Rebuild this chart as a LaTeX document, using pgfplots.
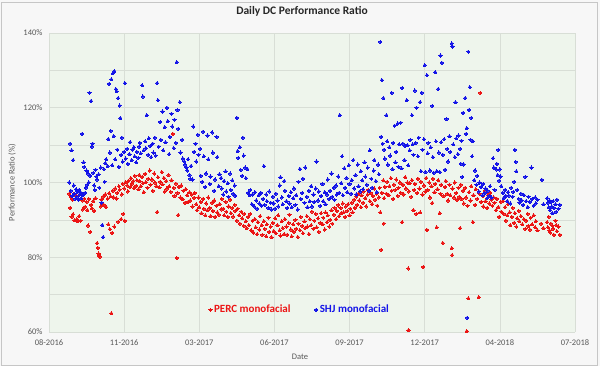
\documentclass[border=0pt]{standalone}
\usepackage{fontspec}
\setmainfont{Carlito}
\usepackage{pgfplots}
\pgfplotsset{compat=1.18}
\definecolor{percred}{RGB}{236,20,20}
\definecolor{shjblue}{RGB}{20,20,232}
\definecolor{plotbg}{RGB}{238,245,236}
\definecolor{outerbg}{RGB}{247,247,247}
\definecolor{gridc}{RGB}{216,222,214}
\definecolor{labc}{RGB}{89,89,89}
\begin{document}
\begin{tikzpicture}
\fill[outerbg] (0,0) rectangle (600pt,366pt);
\draw[gray!45,line width=0.6pt] (1pt,1pt) rectangle (597pt,364pt);
\useasboundingbox (0,0) rectangle (600pt,366pt);
\begin{axis}[
  at={(49pt,34pt)}, anchor=south west,
  scale only axis, width=526pt, height=299pt,
  xmin=0, xmax=700, ymin=60, ymax=140,
  axis background/.style={fill=plotbg},
  axis line style={draw=none},
  major tick length=0pt, minor tick length=0pt,
  xtick={0,100,...,700},
  xticklabels={08-2016,11-2016,03-2017,06-2017,09-2017,12-2017,04-2018,07-2018},
  ytick={60,80,100,120,140},
  yticklabels={60\%,80\%,100\%,120\%,140\%},
  minor ytick={70,90,110,130},
  grid=both,
  major grid style={gridc,line width=0.6pt},
  minor grid style={gridc,line width=0.6pt},
  ticklabel style={font=\fontsize{8.5}{10}\selectfont, text=labc},
  xticklabel style={yshift=-4pt},
  yticklabel style={xshift=-3pt},
  title={\textbf{Daily DC Performance Ratio}},
  title style={at={(axis description cs:0.481,1)}, anchor=center, yshift=16pt, font=\fontsize{11.5}{13}\selectfont, text=black!85},
  xlabel={Date},
  xlabel style={at={(axis description cs:0.477,-0.084)}, anchor=center, font=\fontsize{8.5}{10}\selectfont, text=labc},
  ylabel={Performance Ratio (\%)},
  ylabel style={at={(axis description cs:-0.070,0.5)}, anchor=center, font=\fontsize{8.5}{10}\selectfont, text=labc},
  /pgf/number format/assume math mode=true,
  legend style={draw=none, fill=none, at={(0.477,0.074)}, anchor=center, font=\fontsize{11}{13}\selectfont\bfseries},
  legend columns=2,
  legend cell align=left,
  /tikz/every even column/.append style={column sep=22pt},
]
\addplot[only marks, mark=*, color=percred, mark size=1.6pt, mark options={draw=percred, fill=percred, line width=0pt}] coordinates {
(27,97.0)(28,93.2)(29,96.2)(30,90.8)(31,95.4)(32,91.5)(33,96.8)(34,89.9)(36,96.5)(37,90.2)(38,89.6)(40,91.0)(41,96.9)(42,89.8)(44,95.2)(45,92.8)(47,95.6)(48,93.5)(50,94.8)(51,92.6)(52,88.5)(53,95.6)(55,86.8)(56,94.0)(57,93.1)(59,95.0)(60,92.4)(62,95.8)(64,83.8)(65,82.5)(66,81.0)(67,80.4)(68,80.2)(69,93.6)(70,95.5)(72,96.2)(73,94.0)(75,96.8)(76,93.4)(78,95.7)(79,88.8)(80,97.1)(81,87.5)(82,96.3)(83,65.0)(84,86.5)(85,97.8)(86,96.0)(87,88.2)(88,98.4)(90,95.7)(91,97.2)(92,89.5)(93,99.0)(94,98.1)(96,90.2)(97,96.8)(98,99.6)(99,91.6)(100,98.4)(101,89.7)(102,100.1)(104,99.2)(105,97.6)(106,100.5)(108,98.8)(109,101.2)(110,99.6)(112,100.4)(113,98.5)(114,101.8)(116,99.1)(117,100.6)(119,98.2)(120,102.0)(121,100.3)(122,99.0)(124,101.5)(125,99.8)(126,97.4)(128,102.3)(129,100.1)(131,98.6)(132,101.0)(134,103.2)(135,99.4)(137,100.8)(138,97.8)(140,102.4)(141,100.0)(143,99.0)(144,92.1)(145,101.4)(147,98.7)(148,100.2)(150,102.8)(151,99.5)(153,101.2)(154,97.6)(156,100.4)(157,98.4)(159,102.0)(160,99.0)(162,97.5)(163,100.6)(165,113.0)(166,98.6)(167,96.4)(169,99.7)(170,79.8)(171,97.2)(172,91.3)(173,98.8)(175,96.0)(176,99.2)(178,95.5)(179,97.8)(181,94.6)(182,98.2)(184,96.6)(185,94.8)(187,97.4)(188,95.2)(190,96.8)(191,93.6)(193,95.9)(194,97.2)(196,94.2)(197,92.6)(199,96.0)(200,93.4)(202,94.8)(203,91.8)(205,95.6)(206,93.0)(208,91.2)(209,94.4)(211,92.6)(212,96.0)(214,93.2)(215,91.0)(217,94.6)(218,92.4)(220,95.2)(221,90.8)(223,93.8)(224,92.0)(226,91.4)(227,94.2)(229,92.8)(230,95.6)(232,93.0)(233,91.2)(235,94.8)(236,92.2)(238,90.8)(239,93.6)(241,95.4)(242,91.8)(244,93.2)(245,90.9)(247,94.0)(248,92.4)(250,89.8)(251,93.0)(253,91.2)(254,89.0)(256,92.2)(257,90.4)(259,88.4)(260,91.6)(262,89.6)(263,87.8)(265,90.8)(266,88.6)(268,91.6)(269,87.2)(271,89.8)(272,86.6)(274,90.2)(275,88.0)(277,86.2)(278,89.4)(280,87.4)(281,91.0)(283,88.6)(284,86.0)(286,89.6)(287,87.6)(289,85.6)(290,88.8)(292,90.6)(293,86.8)(295,88.2)(296,85.4)(298,89.2)(299,87.0)(301,90.4)(302,86.4)(304,88.6)(305,91.2)(307,87.2)(308,85.8)(310,89.6)(311,87.8)(313,86.2)(314,90.2)(316,88.2)(317,86.0)(319,89.2)(320,91.4)(322,87.4)(323,85.6)(325,88.8)(326,86.8)(328,90.0)(329,87.6)(331,85.4)(332,89.0)(334,87.2)(335,90.8)(337,88.4)(338,86.4)(340,89.6)(341,87.8)(343,91.0)(344,88.2)(346,86.2)(347,90.2)(349,88.6)(350,92.2)(352,87.6)(353,89.8)(355,91.6)(356,88.0)(358,90.4)(359,86.8)(361,89.2)(362,91.8)(364,88.8)(365,90.6)(367,87.4)(368,92.0)(370,89.4)(371,91.2)(373,88.2)(374,90.0)(376,92.6)(377,89.0)(379,91.4)(380,93.2)(382,90.2)(383,92.4)(385,94.0)(386,91.0)(388,93.2)(389,91.8)(391,94.4)(392,92.0)(394,90.8)(395,93.6)(397,92.4)(398,94.2)(400,91.2)(401,93.0)(403,94.6)(404,92.0)(406,95.4)(407,93.2)(409,96.2)(410,94.0)(412,97.0)(413,95.2)(415,93.4)(416,96.6)(418,94.6)(419,97.6)(421,95.8)(422,93.6)(424,96.8)(425,98.0)(427,95.0)(428,97.2)(430,94.2)(431,96.4)(433,98.4)(434,95.4)(436,97.0)(437,93.8)(439,96.0)(440,98.6)(441,92.0)(442,82.0)(443,97.2)(445,100.6)(445.5,89.0)(446,95.8)(447,98.8)(449,97.0)(450,100.2)(452,96.6)(453,99.0)(455,101.2)(456,97.8)(458,95.6)(459,99.4)(461,98.0)(462,100.8)(464,96.4)(465,98.6)(467,100.0)(468,97.2)(470,89.4)(471,99.4)(472,96.8)(474,101.4)(475,98.4)(477,100.0)(478,77.0)(478.5,60.5)(479,97.6)(480,99.8)(482,96.2)(483,100.6)(485,92.6)(486,98.0)(487,99.6)(489,91.6)(490,97.2)(491,101.0)(493,98.4)(494,92.0)(495,100.2)(497,96.8)(498,77.4)(499,99.2)(501,97.6)(502,101.2)(503,87.3)(504,98.0)(506,100.0)(507,96.0)(509,99.0)(510,94.5)(511,101.0)(513,97.4)(514,99.6)(516,88.0)(517,98.2)(518,100.6)(520,91.8)(521,97.0)(522,99.4)(524,83.8)(525,96.4)(527,98.8)(528,100.4)(530,97.0)(531,95.2)(533,99.4)(534,96.6)(536,82.4)(536.5,80.6)(537,98.4)(539,96.0)(540,100.0)(542,97.2)(543,95.4)(545,98.6)(546,96.2)(547,87.8)(548,99.4)(549,95.6)(551,97.8)(552,94.4)(554,98.6)(555,96.0)(556,60.2)(557,93.8)(558,69.0)(559,97.4)(561,95.2)(562,99.0)(564,89.4)(565,96.6)(567,94.0)(568,98.2)(570,95.6)(572,69.3)(573,97.0)(574,124.0)(575,94.8)(577,96.4)(578,93.6)(580,97.8)(581,95.0)(583,93.2)(584,96.6)(586,94.4)(587,97.2)(589,95.4)(590,93.8)(592,96.0)(593,94.6)(595,92.6)(596,95.6)(598,93.4)(599,90.8)(601,94.8)(602,92.2)(604,95.0)(605,91.6)(607,93.4)(608,89.8)(610,91.2)(611,94.2)(613,92.0)(614,88.6)(616,90.8)(617,93.2)(619,89.2)(620,91.8)(622,88.2)(623,90.4)(625,92.4)(626,89.6)(628,91.0)(630,88.8)(632,90.2)(634,87.6)(635,89.8)(637,91.6)(638,88.4)(640,87.4)(641,90.6)(643,88.8)(645,91.2)(647,88.0)(648,89.6)(650,87.2)(655,89.0)(658,87.8)(663,89.4)(664,88.0)(665,90.8)(666,87.2)(667,86.6)(668,89.0)(670,88.4)(671,87.6)(672,86.0)(674,89.8)(675,88.6)(676,87.0)(678,88.2)(680,86.0)
};
\addlegendentry{\textcolor{percred}{PERC monofacial}}
\addplot[only marks, mark=*, color=shjblue, mark size=1.6pt, mark options={draw=shjblue, fill=shjblue, line width=0pt}] coordinates {
(27,100.0)(28,110.4)(29,97.8)(30,108.6)(31,96.4)(32,106.0)(33,99.2)(34,97.0)(35,95.6)(36,98.2)(37,96.2)(38,97.6)(39,95.4)(40,98.0)(41,96.8)(42,97.4)(43,95.8)(44,113.0)(45,96.6)(46,105.4)(47,104.2)(48,97.2)(49,98.6)(50,103.2)(51,99.4)(52,102.4)(53,100.0)(54,124.0)(55,101.8)(56,121.8)(57,109.6)(58,110.4)(59,102.6)(60,99.2)(61,98.0)(62,103.4)(63,101.6)(64,100.8)(66,102.2)(67,98.6)(69,104.0)(70,94.6)(71,88.6)(72,85.4)(73,103.6)(74,100.2)(75,105.2)(76,106.2)(78,104.4)(79,111.6)(80,126.4)(81,108.0)(82,113.8)(83,127.6)(84,104.6)(85,129.2)(86,112.4)(87,129.8)(88,106.2)(89,125.0)(90,124.4)(91,108.8)(92,122.6)(93,104.2)(94,120.6)(95,117.2)(96,107.4)(97,112.0)(98,105.6)(100,108.2)(101,126.6)(102,106.4)(104,109.0)(105,105.0)(107,107.6)(108,110.8)(110,106.0)(111,108.8)(113,109.4)(114,107.0)(116,105.4)(117,108.2)(119,106.6)(120,109.6)(121,110.6)(122,107.8)(124,126.0)(125,123.0)(126,108.6)(128,111.0)(129,109.2)(130,118.0)(132,107.4)(133,111.8)(135,109.8)(136,106.8)(138,110.4)(139,108.0)(141,112.0)(142,107.2)(144,126.6)(145,122.0)(146,109.6)(148,116.2)(149,111.4)(151,119.0)(152,108.6)(154,114.8)(155,110.8)(157,120.0)(158,116.4)(160,107.6)(161,112.2)(163,118.4)(164,115.0)(166,109.2)(167,116.8)(169,110.6)(170,132.2)(171,119.4)(172,114.4)(174,121.5)(175,108.0)(177,111.4)(178,106.4)(180,105.6)(181,104.8)(183,104.0)(184,103.2)(185,106.2)(187,102.0)(188,101.0)(189,104.4)(191,100.8)(192,115.0)(193,108.2)(195,110.4)(196,105.6)(198,112.8)(199,107.4)(201,109.0)(202,101.8)(204,100.2)(205,113.6)(206,107.0)(208,98.8)(209,102.4)(211,112.6)(212,106.2)(214,99.6)(215,101.6)(217,113.4)(218,108.0)(220,97.8)(221,100.8)(223,112.2)(224,106.8)(226,99.0)(227,102.2)(229,101.2)(230,98.4)(232,96.8)(233,100.4)(235,103.0)(236,97.6)(238,99.8)(239,96.2)(241,102.4)(242,98.0)(244,100.6)(245,97.0)(247,99.2)(248,96.4)(250,117.3)(251,108.4)(252,106.6)(254,109.4)(255,103.4)(257,101.8)(258,112.0)(259,107.2)(261,104.0)(262,101.2)(264,103.6)(265,97.2)(267,96.6)(268,98.0)(270,94.2)(271,96.8)(273,93.6)(274,97.4)(276,95.2)(277,93.0)(279,96.6)(280,94.4)(282,97.2)(283,93.8)(285,95.6)(286,104.4)(287,94.0)(289,96.8)(290,95.0)(292,93.2)(293,97.6)(295,94.6)(296,92.8)(298,96.2)(299,94.4)(301,93.0)(302,97.0)(304,95.2)(305,93.6)(307,99.2)(308,101.4)(310,96.0)(311,94.2)(313,100.4)(314,97.8)(316,95.0)(317,93.2)(319,96.4)(320,94.4)(322,97.4)(323,93.4)(325,95.8)(326,98.4)(328,94.0)(329,96.6)(331,92.8)(332,100.2)(334,103.6)(335,95.6)(337,97.2)(338,101.0)(340,94.6)(341,104.0)(343,96.2)(344,93.4)(346,97.8)(347,95.0)(349,99.0)(350,93.6)(352,96.8)(353,94.8)(355,98.4)(356,105.6)(358,95.2)(359,97.6)(361,93.8)(362,96.4)(364,99.6)(365,95.0)(367,97.4)(368,94.2)(370,96.8)(371,100.8)(373,95.6)(374,97.8)(376,102.4)(377,96.2)(379,98.6)(380,95.4)(382,99.2)(383,96.8)(385,101.6)(386,97.2)(387,118.0)(389,99.8)(390,107.0)(391,96.6)(393,103.8)(394,98.6)(396,101.2)(397,97.4)(399,104.6)(400,99.6)(402,97.0)(403,100.6)(405,106.0)(406,98.4)(408,102.0)(409,96.8)(411,104.8)(412,99.0)(414,97.6)(415,103.0)(417,100.6)(418,98.2)(420,105.4)(421,101.6)(423,99.4)(424,104.0)(426,97.8)(427,108.6)(429,101.0)(430,98.6)(432,103.2)(433,106.0)(435,100.4)(436,97.4)(438,104.8)(439,102.2)(441,137.6)(442,112.2)(443,127.4)(444,110.4)(445,122.6)(446,108.8)(447,106.4)(449,118.0)(450,111.0)(451,104.8)(453,109.4)(454,107.2)(456,124.0)(457,103.6)(458,110.6)(460,115.2)(461,105.4)(462,108.2)(464,115.8)(465,104.2)(466,110.2)(468,116.0)(469,103.8)(470,125.3)(471,110.4)(473,106.0)(474,109.8)(476,122.0)(477,110.0)(478,104.6)(480,108.6)(481,111.4)(483,118.0)(484,110.2)(485,107.4)(487,124.6)(488,110.6)(489,120.0)(491,107.0)(492,112.0)(494,121.5)(495,103.0)(496,124.0)(497,108.8)(499,111.6)(500,131.4)(501,102.8)(503,128.7)(504,107.8)(505,110.6)(507,103.2)(508,109.4)(510,120.5)(511,106.8)(512,102.6)(514,129.5)(515,111.0)(516,103.0)(518,125.0)(519,108.0)(520,102.8)(521,134.0)(522,110.8)(523,132.0)(524,107.4)(526,111.6)(527,103.4)(529,117.0)(530,109.0)(531,105.6)(533,112.4)(534,108.2)(536,137.2)(537,136.4)(538,110.2)(540,106.8)(541,121.5)(542,111.8)(544,107.6)(545,112.6)(547,109.0)(548,105.0)(549,111.2)(550,101.5)(551,118.6)(552,104.8)(554,122.6)(555,113.0)(556,114.5)(556.5,63.8)(558,135.0)(559,119.4)(560,125.5)(561,111.4)(562,117.3)(563,107.0)(564,111.0)(566,100.6)(567,103.2)(569,99.4)(570,101.8)(572,97.6)(573,100.0)(575,98.8)(577,96.6)(578,99.6)(580,97.2)(581,98.4)(583,95.8)(584,97.8)(586,96.4)(587,99.0)(589,96.0)(591,106.5)(592,104.0)(593,98.0)(595,103.5)(596,105.0)(597,102.0)(598,108.7)(599,100.5)(600,103.5)(601,101.6)(602,99.0)(604,97.2)(605,95.8)(607,98.0)(608,96.4)(610,95.0)(611,97.4)(612,96.5)(614,94.4)(615,98.6)(617,96.2)(618,97.5)(619,100.2)(620,108.7)(621,105.5)(622,103.0)(623,98.0)(625,95.6)(626,94.6)(628,97.0)(629,95.2)(631,94.0)(632,96.6)(634,101.5)(635,95.0)(637,93.4)(638,96.2)(640,94.8)(642,104.0)(643,95.6)(645,93.8)(647,96.0)(648,94.4)(650,95.4)(656,100.7)(658,94.2)(663,95.8)(664,94.6)(665,93.4)(666,95.2)(667,92.6)(668,94.8)(669,93.6)(670,91.8)(671,95.0)(672,93.2)(674,94.2)(675,92.2)(676,95.4)(678,93.0)(680,94.0)
};
\addlegendentry{\textcolor{shjblue}{SHJ monofacial}}
\end{axis}
\end{tikzpicture}
\end{document}
